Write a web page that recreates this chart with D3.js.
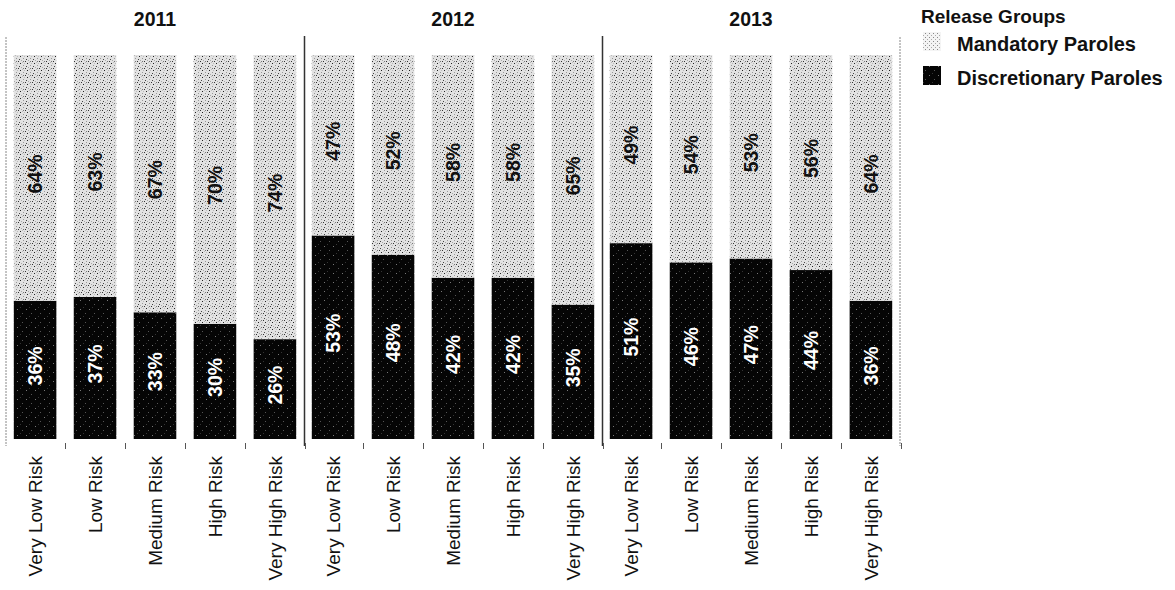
<!DOCTYPE html>
<html>
<head>
<meta charset="utf-8">
<script src="https://cdn.jsdelivr.net/npm/d3@7"></script>
<style>
  html, body { margin: 0; padding: 0; background: #ffffff; }
  svg { display: block; }
  text { font-family: "Liberation Sans", Arial, Helvetica, sans-serif; }
</style>
</head>
<body>
<svg id="chart" width="1175" height="590"></svg>
<script>
// ---- data ----
const years = ["2011", "2012", "2013"];
const riskGroups = ["Very Low Risk", "Low Risk", "Medium Risk", "High Risk", "Very High Risk"];
const seriesNames = ["Mandatory Paroles", "Discretionary Paroles"];
const discretionary2011 = [36, 37, 33, 30, 26];
const discretionary2012 = [53, 48, 42, 42, 35];
const discretionary2013 = [51, 46, 47, 44, 36];
const mandatory2011 = [64, 63, 67, 70, 74];
const mandatory2012 = [47, 52, 58, 58, 65];
const mandatory2013 = [49, 54, 53, 56, 64];

const discretionary = [discretionary2011, discretionary2012, discretionary2013];
const mandatory = [mandatory2011, mandatory2012, mandatory2013];

// ---- setup ----
const svg = d3.select("#chart");
const defs = svg.append("defs");

// light stipple pattern (mandatory)
const pLight = defs.append("pattern").attr("id", "pLight")
  .attr("patternUnits", "userSpaceOnUse").attr("width", 7).attr("height", 7);
pLight.append("rect").attr("width", 7).attr("height", 7).attr("fill", "#e2e2e2");
[[0,0,"#222"],[3,2,"#999"],[5,5,"#333"],[1,4,"#aaa"],[4,0,"#bbb"],[6,3,"#444"],[2,6,"#bbb"],[3,5,"#777"]].forEach(d => {
  pLight.append("rect").attr("x", d[0]).attr("y", d[1]).attr("width", 1).attr("height", 1).attr("fill", d[2]);
});
// dark stipple pattern (discretionary)
const pDark = defs.append("pattern").attr("id", "pDark")
  .attr("patternUnits", "userSpaceOnUse").attr("width", 9).attr("height", 9);
pDark.append("rect").attr("width", 9).attr("height", 9).attr("fill", "#050505");
[[2,3,"#777"],[7,7,"#555"],[5,1,"#333"]].forEach(d => {
  pDark.append("rect").attr("x", d[0]).attr("y", d[1]).attr("width", 1).attr("height", 1).attr("fill", d[2]);
});
// sparse legend pattern
const pLegend = defs.append("pattern").attr("id", "pLegend")
  .attr("patternUnits", "userSpaceOnUse").attr("width", 4).attr("height", 4);
pLegend.append("rect").attr("width", 4).attr("height", 4).attr("fill", "#f4f4f4");
pLegend.append("rect").attr("x", 1).attr("y", 1).attr("width", 1).attr("height", 1).attr("fill", "#888");
pLegend.append("rect").attr("x", 3).attr("y", 3).attr("width", 1).attr("height", 1).attr("fill", "#aaa");

const plotLeft = 6, plotRight = 900, plotTop = 55, plotBottom = 439;

const xPanel = d3.scaleBand().domain(years).range([plotLeft, plotRight]).padding(0);
const xBar = d3.scaleBand().domain(riskGroups).range([0, xPanel.bandwidth()])
  .paddingInner(0.29).paddingOuter(0.13);
const y = d3.scaleLinear().domain([0, 100]).range([plotBottom, plotTop]);

// frame lines
[plotLeft, plotRight].forEach(x => {
  svg.append("line").attr("x1", x).attr("x2", x).attr("y1", 37).attr("y2", 446)
    .attr("stroke", "#888").attr("stroke-width", 1).attr("stroke-dasharray", "2,1");
});
years.slice(1).forEach(yr => {
  const x = Math.round(xPanel(yr)) + 0.5;
  svg.append("line").attr("x1", x).attr("x2", x).attr("y1", 36).attr("y2", 446)
    .attr("stroke", "#333").attr("stroke-width", 1.5);
});

years.forEach((yr, i) => {
  const g = svg.append("g").attr("transform", `translate(${xPanel(yr)},0)`);

  // year title
  g.append("text").attr("x", xPanel.bandwidth() / 2).attr("y", 26)
    .attr("text-anchor", "middle").attr("font-weight", "bold").attr("font-size", "19.5px")
    .attr("fill", "#111").text(yr);

  const rows = riskGroups.map((r, j) => ({ risk: r, disc: discretionary[i][j], mand: mandatory[i][j] }));

  // discretionary (bottom)
  g.selectAll("rect.disc").data(rows).enter().append("rect")
    .attr("class", "disc")
    .attr("x", d => xBar(d.risk)).attr("width", xBar.bandwidth())
    .attr("y", d => y(d.disc)).attr("height", d => y(0) - y(d.disc))
    .attr("fill", "url(#pDark)");
  // mandatory (top)
  g.selectAll("rect.mand").data(rows).enter().append("rect")
    .attr("class", "mand")
    .attr("x", d => xBar(d.risk)).attr("width", xBar.bandwidth())
    .attr("y", d => y(d.disc + d.mand)).attr("height", d => y(d.disc) - y(d.disc + d.mand))
    .attr("fill", "url(#pLight)");

  // value labels
  g.selectAll("text.dl").data(rows).enter().append("text")
    .attr("class", "dl")
    .attr("transform", d => `translate(${xBar(d.risk) + xBar.bandwidth() / 2},${(y(0) + y(d.disc)) / 2 - 4}) rotate(-90)`)
    .attr("text-anchor", "middle").attr("dy", "0.35em")
    .attr("font-weight", "bold").attr("font-size", "19.5px").attr("fill", "#ffffff")
    .text(d => d.disc + "%");
  g.selectAll("text.ml").data(rows).enter().append("text")
    .attr("class", "ml")
    .attr("transform", d => `translate(${xBar(d.risk) + xBar.bandwidth() / 2},${(y(d.disc) + y(d.disc + d.mand)) / 2 - 4}) rotate(-90)`)
    .attr("text-anchor", "middle").attr("dy", "0.35em")
    .attr("font-weight", "bold").attr("font-size", "19.5px").attr("fill", "#111")
    .text(d => d.mand + "%");

  // small tick marks between bars
  riskGroups.forEach((r, j) => {
    const tx = Math.round(xBar(r) + xBar.bandwidth() + xBar.step() * xBar.paddingInner() / 2) + 0.5;
    g.append("line").attr("x1", tx).attr("x2", tx).attr("y1", 443).attr("y2", 449)
      .attr("stroke", "#555").attr("stroke-width", 1);
  });

  // category axis labels
  g.selectAll("text.cat").data(riskGroups).enter().append("text")
    .attr("class", "cat")
    .attr("transform", d => `translate(${xBar(d) + xBar.bandwidth() / 2},456) rotate(-90)`)
    .attr("text-anchor", "end").attr("dy", "0.35em")
    .attr("font-size", "19px").attr("fill", "#111")
    .text(d => d);
});

// legend
const lg = svg.append("g");
lg.append("text").attr("x", 921).attr("y", 23).attr("font-weight", "bold")
  .attr("font-size", "19px").attr("fill", "#111").text("Release Groups");
const legendItems = [
  { name: seriesNames[0], fill: "url(#pLegend)", y: 32 },
  { name: seriesNames[1], fill: "url(#pDark)", y: 66 }
];
legendItems.forEach(it => {
  lg.append("rect").attr("x", 923).attr("y", it.y).attr("width", 18).attr("height", 19).attr("fill", it.fill);
  lg.append("text").attr("x", 957).attr("y", it.y + 19).attr("font-weight", "bold")
    .attr("font-size", "20px").attr("fill", "#111").text(it.name);
});
</script>
</body>
</html>
